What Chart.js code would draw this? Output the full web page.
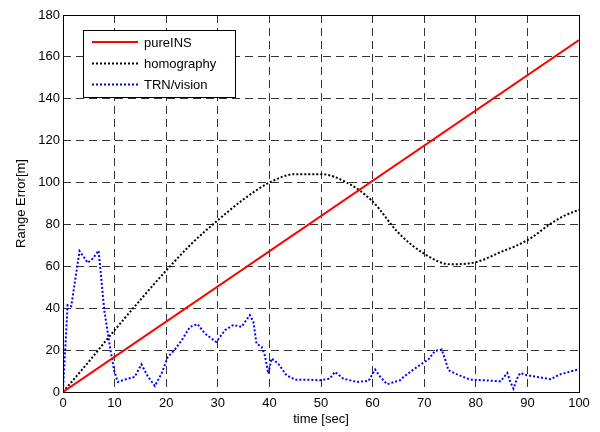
<!DOCTYPE html>
<html>
<head>
<meta charset="utf-8">
<script src="https://cdn.jsdelivr.net/npm/chart.js@4/dist/chart.umd.min.js"></script>
<style>
  html, body { margin: 0; padding: 0; background: #fff; }
  #wrap { width: 600px; height: 432px; }
</style>
</head>
<body>
<div id="wrap"><canvas id="myChart" width="600" height="432"></canvas></div>
<script>
// data
var insTime = [0, 100];
var insErr = [0, 168];

var homTime = [0, 5, 10, 15, 20, 25, 30, 35, 40, 45, 50, 55, 60, 65, 70, 75, 80, 85, 88, 91, 94, 97, 100];
var homErr = [0, 14.5, 29.5, 44, 58, 71, 82, 92, 100, 104, 104, 100, 91, 76, 66, 61, 62, 67, 70, 74, 79.5, 84, 87];

var trnTime = [0, 0.9, 1.6, 3.2, 4.8, 5.8, 6.9, 8.0, 9.0, 9.9, 10.6, 12.6, 13.9, 15.2, 16.5, 17.8, 19.1, 20.3, 21.6, 23.0,
  24.6, 26.1, 27.5, 29.7, 31.4, 33.0, 34.6, 36.2, 36.9, 37.5, 38.5, 39.1, 39.8, 40.4, 41.7, 43.3, 45.0, 47.2, 49.8, 51.7,
  52.7, 54.3, 56.9, 59.2, 60.5, 61.5, 62.8, 65.3, 66.0, 67.9, 69.6, 70.8, 72.1, 73.4, 74.1, 74.7, 76.3, 78.9, 81.5, 84.8,
  86.1, 86.7, 87.3, 88.0, 88.6, 89.9, 91.9, 94.5, 96.4, 99.3, 100];
var trnErr = [0.8, 41.5, 41, 67.3, 61.7, 63.8, 67.5, 39, 23, 10.4, 4.8, 6.4, 7.2, 13.2, 7.2, 2.9, 8.8, 16.7, 20, 24.7,
  31.1, 32.4, 27.9, 23.9, 29.5, 32, 31.1, 36.7, 33.5, 23.2, 21.5, 17.6, 8.8, 16, 13.6, 8, 5.9, 5.9, 5.6, 6.4,
  9.6, 6.4, 4.8, 5.3, 10.7, 7.2, 3.7, 5.6, 7.2, 10.7, 13.6, 15.5, 19.6, 20.3, 15.2, 10.4, 8.5, 5.9, 5.6, 5.1,
  9.1, 4.8, 1.6, 6.4, 9.1, 8, 7.2, 6.1, 8.5, 10.4, 10.8];

var seriesNames = ["pureINS", "homography", "TRN/vision"];
var xTicks = [0, 10, 20, 30, 40, 50, 60, 70, 80, 90, 100];
var yTicks = [0, 20, 40, 60, 80, 100, 120, 140, 160, 180];

function pts(xs, ys) {
  var out = [];
  for (var i = 0; i < xs.length; i++) out.push({x: xs[i], y: ys[i]});
  return out;
}

var FONT = "'Liberation Sans', Arial, Helvetica, sans-serif";

// box around plot + legend inside it
var boxPlugin = {
  id: 'boxLegend',
  afterDatasetsDraw: function(chart) {
    var c = chart.ctx, a = chart.chartArea;
    c.save();
    c.strokeStyle = '#000';
    c.lineWidth = 1;
    c.setLineDash([]);
    c.strokeRect(Math.round(a.left) + 0.5, Math.round(a.top) + 0.5, Math.round(a.right - a.left), Math.round(a.bottom - a.top));

    // legend
    var lx = 83, ly = 30, lw = 152, lh = 67;
    c.fillStyle = '#fff';
    c.fillRect(lx, ly, lw, lh);
    c.strokeRect(lx + 0.5, ly + 0.5, lw, lh);
    var rows = [42, 63.5, 84.5];
    c.font = '13px ' + FONT;
    c.textBaseline = 'middle';
    chart.data.datasets.forEach(function(ds, i) {
      c.beginPath();
      c.strokeStyle = ds.borderColor;
      c.lineWidth = ds.borderWidth;
      c.setLineDash(ds.borderDash || []);
      c.moveTo(92, rows[i]);
      c.lineTo(138, rows[i]);
      c.stroke();
      c.fillStyle = '#000';
      c.fillText(ds.label, 144, rows[i] + 1);
    });
    c.restore();
  }
};

function setup() {
  var ctx = document.getElementById('myChart').getContext('2d');
  var chart = new Chart(ctx, {
    type: 'line',
    data: {
      datasets: [{
        label: seriesNames[0],
        data: pts(insTime, insErr),
        borderColor: 'rgb(255, 0, 0)',
        borderWidth: 2,
        pointRadius: 0
      }, {
        label: seriesNames[1],
        data: pts(homTime, homErr),
        borderColor: '#000',
        borderWidth: 2,
        borderDash: [2, 2],
        pointRadius: 0,
        cubicInterpolationMode: 'monotone'
      }, {
        label: seriesNames[2],
        data: pts(trnTime, trnErr),
        borderColor: 'rgb(0, 0, 255)',
        borderWidth: 2,
        borderDash: [2, 2],
        pointRadius: 0,
        tension: 0
      }]
    },
    options: {
      responsive: false,
      animation: false,
      layout: { padding: { top: 15, right: 21, left: 0, bottom: 0 } },
      plugins: { legend: { display: false }, tooltip: { enabled: false } },
      scales: {
        x: {
          type: 'linear',
          min: 0, max: 100,
          afterBuildTicks: function(s) { s.ticks = xTicks.map(function(v) { return {value: v}; }); },
          afterFit: function(s) { s.height = 40; },
          grid: { color: '#333', lineWidth: 1, drawTicks: false },
          border: { display: false, dash: [8, 5] },
          ticks: { color: '#000', padding: 4, maxRotation: 0, font: { size: 13, family: FONT } },
          title: { display: true, text: 'time [sec]', color: '#000', padding: { top: 2, bottom: 5 }, font: { size: 13, family: FONT } }
        },
        y: {
          min: 0, max: 180,
          afterBuildTicks: function(s) { s.ticks = yTicks.map(function(v) { return {value: v}; }); },
          afterFit: function(s) { s.width = 63; },
          grid: { color: '#333', lineWidth: 1, drawTicks: false },
          border: { display: false, dash: [8, 5] },
          ticks: { color: '#000', padding: 3, font: { size: 13, family: FONT } },
          title: { display: true, text: 'Range Error[m]', color: '#000', padding: { top: 14, bottom: 0 }, font: { size: 13, family: FONT } }
        }
      }
    },
    plugins: [boxPlugin]
  });
  console.log(chart.chartArea);
}
window.onload = setup;
</script>
</body>
</html>
